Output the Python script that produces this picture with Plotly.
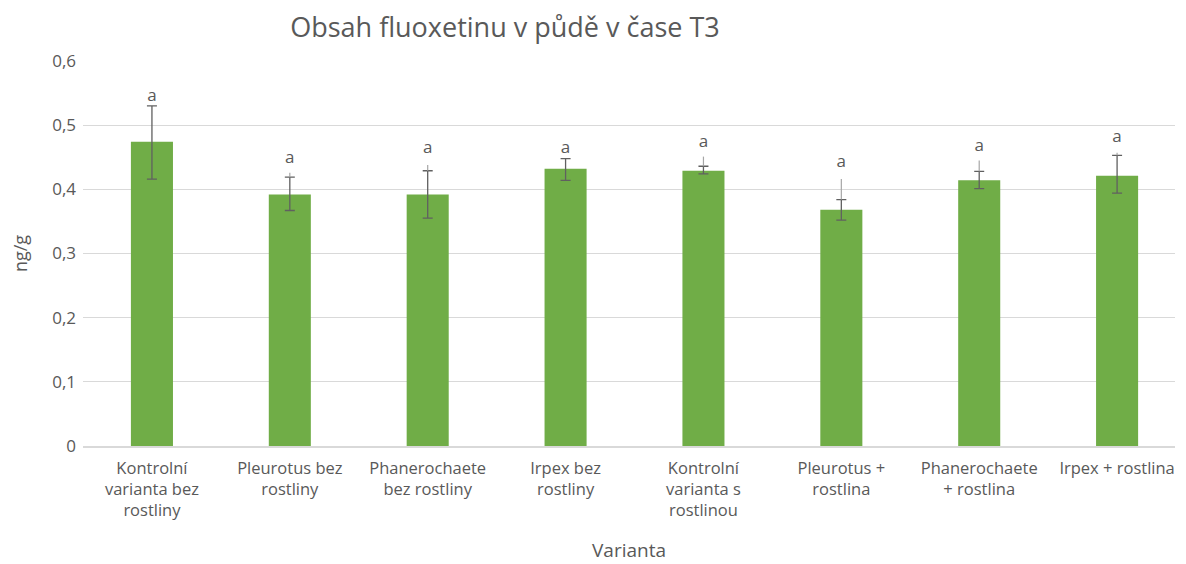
import plotly.graph_objects as go

categories = [
    "Kontrolní<br>varianta bez<br>rostliny",
    "Pleurotus bez<br>rostliny",
    "Phanerochaete<br>bez rostliny",
    "Irpex bez<br>rostliny",
    "Kontrolní<br>varianta s<br>rostlinou",
    "Pleurotus +<br>rostlina",
    "Phanerochaete<br>+ rostlina",
    "Irpex + rostlina",
]
values = [0.474, 0.392, 0.392, 0.432, 0.429, 0.368, 0.414, 0.421]
err_plus = [0.056, 0.027, 0.037, 0.016, 0.007, 0.016, 0.014, 0.032]
err_minus = [0.058, 0.025, 0.037, 0.018, 0.005, 0.016, 0.013, 0.027]
ext_plus = [0.0, 0.007, 0.009, 0.0, 0.015, 0.032, 0.017, 0.004]
letters = ["a"] * 8
letter_y = [0.545, 0.447, 0.463, 0.464, 0.472, 0.441, 0.466, 0.480]
y_ticks = [0, 0.1, 0.2, 0.3, 0.4, 0.5, 0.6]
y_ticklabels = ["0", "0,1", "0,2", "0,3", "0,4", "0,5", "0,6"]

grey = "#595959"
font = "Open Sans"

fig = go.Figure()
fig.add_trace(go.Bar(
    x=categories, y=values,
    marker=dict(color="#70ad47", line=dict(width=0)),
    error_y=dict(type="data", symmetric=False, array=err_plus, arrayminus=err_minus,
                 color="#606060", thickness=1.3, width=5),
    showlegend=False,
))
caps = [v + e for v, e in zip(values, err_plus)]
fig.add_trace(go.Scatter(
    x=categories, y=caps, mode="markers", marker=dict(opacity=0, size=1),
    error_y=dict(type="data", symmetric=False, array=ext_plus,
                 arrayminus=[0] * len(ext_plus), color="#a6a6a6", thickness=1.2, width=0),
    showlegend=False, hoverinfo="skip",
))
fig.add_trace(go.Scatter(
    x=categories, y=letter_y, mode="text", text=letters,
    textfont=dict(family=font, size=17, color=grey),
    showlegend=False, hoverinfo="skip",
))

# page body has an 8px default margin, so the figure is sized/offset to compensate
fig.update_layout(
    width=1178, height=556,
    paper_bgcolor="white", plot_bgcolor="white",
    margin=dict(l=75, r=11, t=53, b=118, autoexpand=False),
    bargap=0.695,
    title=dict(text="Obsah fluoxetinu v půdě v čase T3", x=497 / 1178, xanchor="center",
               y=1 - 20 / 556, yanchor="middle", xref="container", yref="container",
               font=dict(family=font, size=27, color=grey)),
    font=dict(family=font, color=grey),
)
fig.update_xaxes(
    automargin=False,
    range=[-0.5, 7.42],
    tickfont=dict(family=font, size=16.5, color=grey),
    showline=True, linecolor="#d9d9d9", linewidth=1.5,
    ticks="", showgrid=False, ticklabelstandoff=6,
    title=dict(text="Varianta", font=dict(family=font, size=19, color=grey), standoff=23),
)
fig.update_yaxes(
    automargin=False,
    range=[0, 0.6], tickvals=y_ticks, ticktext=y_ticklabels,
    tickfont=dict(family=font, size=17, color=grey),
    showgrid=True, gridcolor="#d9d9d9", gridwidth=1,
    zeroline=False, ticks="", ticklabelstandoff=6,
    title=dict(text="ng/g", font=dict(family=font, size=18, color=grey), standoff=20),
)
fig.write_html("out.html")
